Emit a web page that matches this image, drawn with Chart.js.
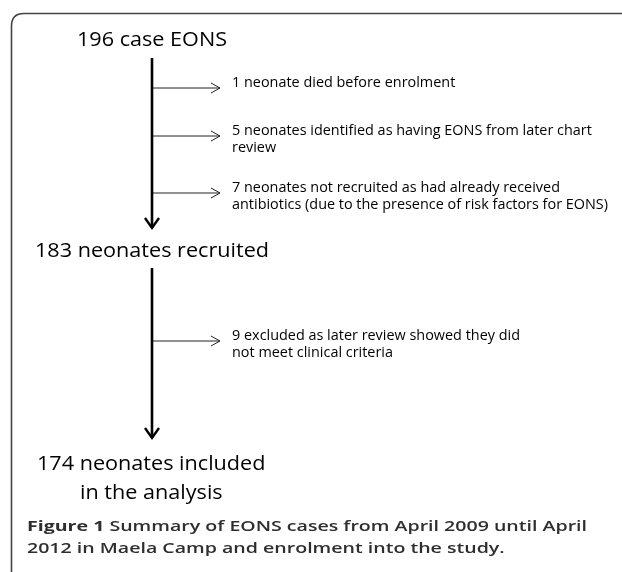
<!DOCTYPE html>
<html>
<head>
<meta charset="utf-8">
<script src="https://cdn.jsdelivr.net/npm/chart.js@4.4.1/dist/chart.umd.min.js"></script>
<style>
  html, body { margin: 0; padding: 0; background: #fff; }
  #chart { display: block; }
</style>
</head>
<body>
<canvas id="chart" width="622" height="572"></canvas>
<script>
// flow counts
const stageLabels = [
  ["196 case EONS"],
  ["183 neonates recruited"],
  ["174 neonates included", "in the analysis"]
];
const exclusionLabels = [
  ["1 neonate died before enrolment"],
  ["5 neonates identified as having EONS from later chart", "review"],
  ["7 neonates not recruited as had already received", "antibiotics (due to the presence of risk factors for EONS)"],
  ["9 excluded as later review showed they did", "not meet clinical criteria"]
];
const exclusionStep = [0, 0, 0, 1];
const captionBold = "Figure 1";
const captionLines = [
  " Summary of EONS cases from April 2009 until April",
  "2012 in Maela Camp and enrolment into the study."
];

// layout in page pixels (x: 0..622, y: 0..572 top-down)
const W = 622, H = 572;
const spineX = 152;
const spines = [[58, 229], [268, 439]];
const branchY = [88, 136, 193, 341];
const branchTip = 220;
const textX = 232;
const stagePos = [
  { x: [77], y: [46] },
  { x: [35], y: [257] },
  { x: [37, 80], y: [470, 499] }
];
const captionPos = { x: 27, y: [531, 553] };

const FONT = '"Open Sans", "Noto Sans", sans-serif';

const datasets = [];

spines.forEach(s => {
  datasets.push({
    data: [{ x: spineX, y: s[0] }, { x: spineX, y: s[1] - 1 }],
    borderColor: "#000", borderWidth: 2.6
  });
  datasets.push({
    data: [{ x: spineX - 7, y: s[1] - 11 }, { x: spineX, y: s[1] - 1 }, { x: spineX + 7, y: s[1] - 11 }],
    borderColor: "#000", borderWidth: 2.4, borderJoinStyle: "miter", borderCapStyle: "butt"
  });
});

branchY.forEach(y => {
  datasets.push({
    data: [{ x: spineX, y: y }, { x: branchTip, y: y }],
    borderColor: "#222", borderWidth: 1
  });
  datasets.push({
    data: [{ x: branchTip - 9, y: y - 5 }, { x: branchTip, y: y }, { x: branchTip - 9, y: y + 5 }],
    borderColor: "#222", borderWidth: 1, borderJoinStyle: "miter"
  });
});

datasets.forEach(d => {
  d.showLine = true;
  d.pointRadius = 0;
  d.fill = false;
  d.tension = 0;
});

function fitText(ctx, text, font, target) {
  ctx.font = font;
  return target / ctx.measureText(text).width;
}

function drawScaled(ctx, text, x, y, sx) {
  ctx.save();
  ctx.translate(x, y);
  ctx.scale(sx, 1);
  ctx.fillText(text, 0, 0);
  ctx.restore();
}

const flowPlugin = {
  id: "flow",
  beforeDatasetsDraw(chart) {
    const ctx = chart.ctx;
    const sx = chart.scales.x, sy = chart.scales.y;
    const px = v => sx.getPixelForValue(v);
    const py = v => sy.getPixelForValue(v);
    ctx.save();
    ctx.strokeStyle = "#444";
    ctx.lineWidth = 1.6;
    ctx.beginPath();
    ctx.moveTo(px(11.5), py(572));
    ctx.lineTo(px(11.5), py(26));
    ctx.quadraticCurveTo(px(11.5), py(13.5), px(24), py(13.5));
    ctx.lineTo(px(622), py(13.5));
    ctx.stroke();
    ctx.restore();
  },
  afterDatasetsDraw(chart) {
    const ctx = chart.ctx;
    const sx = chart.scales.x, sy = chart.scales.y;
    const px = v => sx.getPixelForValue(v);
    const py = v => sy.getPixelForValue(v);
    ctx.save();
    ctx.textBaseline = "alphabetic";
    ctx.textAlign = "left";
    ctx.fillStyle = "#000";

    const stageFont = "20.5px " + FONT;
    const kStage = fitText(ctx, "183 neonates recruited", stageFont, 234);
    ctx.font = stageFont;
    stageLabels.forEach((lines, i) => {
      lines.forEach((t, j) => {
        drawScaled(ctx, t, px(stagePos[i].x[j]), py(stagePos[i].y[j]), kStage);
      });
    });

    const exFont = "14px " + FONT;
    const kEx = fitText(ctx, exclusionLabels[2][1], exFont, 376);
    ctx.font = exFont;
    exclusionLabels.forEach((lines, i) => {
      lines.forEach((t, j) => {
        drawScaled(ctx, t, px(textX), py(branchY[i] - 1 + j * 17), kEx);
      });
    });

    ctx.fillStyle = "#2e2e2e";
    const capFont = "600 15px " + FONT;
    const boldFont = "700 15px " + FONT;
    ctx.font = boldFont;
    const wBold = ctx.measureText(captionBold).width;
    ctx.font = capFont;
    const wRest = ctx.measureText(captionLines[0]).width;
    const kCap = 560 / (wBold + wRest);
    ctx.font = boldFont;
    drawScaled(ctx, captionBold, px(captionPos.x), py(captionPos.y[0]), kCap);
    ctx.font = capFont;
    drawScaled(ctx, captionLines[0], px(captionPos.x) + wBold * kCap, py(captionPos.y[0]), kCap);
    drawScaled(ctx, captionLines[1], px(captionPos.x), py(captionPos.y[1]), kCap);
    ctx.restore();
  }
};

new Chart(document.getElementById("chart"), {
  type: "scatter",
  data: { datasets: datasets },
  options: {
    responsive: false,
    animation: false,
    layout: { padding: 0 },
    plugins: { legend: { display: false }, tooltip: { enabled: false } },
    scales: {
      x: { type: "linear", min: 0, max: W, display: false },
      y: { type: "linear", min: 0, max: H, reverse: true, display: false }
    }
  },
  plugins: [flowPlugin]
});
</script>
</body>
</html>
